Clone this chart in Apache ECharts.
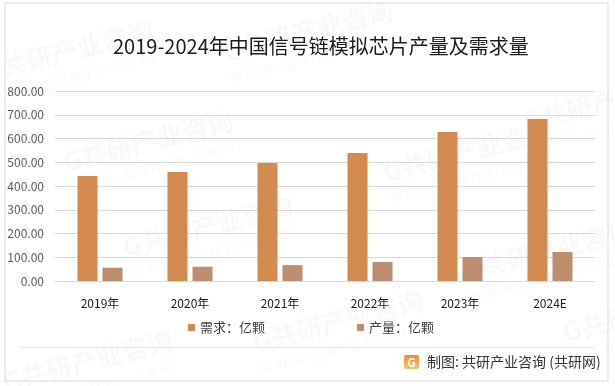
<!DOCTYPE html>
<html><head><meta charset="utf-8">
<script src="https://cdn.jsdelivr.net/npm/echarts@6/dist/echarts.min.js"></script>
<style>html,body{margin:0;padding:0;background:#fff}#c{width:615px;height:386px}</style>
</head><body><div id="c"></div>
<script>
const categories = ['2019年','2020年','2021年','2022年','2023年','2024E'];
const demand = [442, 459, 497, 539, 627, 682];
const production = [56, 60, 67, 80, 101, 122];
const seriesNames = ['需求：亿颗', '产量：亿颗'];
const yTicks = {min: 0, max: 800, interval: 100};

const chart = echarts.init(document.getElementById('c'), null, {renderer: 'canvas'});
const font = '"Noto Sans CJK SC", "Noto Sans", sans-serif';

const wm = [];
const wmPos = [[60,150],[220,40],[120,235],[380,160],[250,330],[520,110],[460,260],[0,370],[560,320],[-20,60]];
wmPos.forEach(p => {
  wm.push({type:'group', x:p[0], y:p[1], rotation: 0.25, silent:true, z:-1, children:[
    {type:'text', style:{text:'G共研产业咨询', font:'bold 26px ' + font, fill:'rgba(0,0,0,0.028)'}},
    {type:'text', y:30, style:{text:'w w w . g o n y n . c o m', font:'16px ' + font, fill:'rgba(0,0,0,0.028)'}}
  ]});
});

chart.setOption({
  animation: false,
  title: {
    text: '2019-2024年中国信号链模拟芯片产量及需求量',
    left: 108, top: 31,
    textStyle: {fontFamily: font, fontSize: 20, fontWeight: 'normal', color: '#1a1a1a'}
  },
  grid: {left: 55, right: 20, top: 91, bottom: 105},
  legend: {
    left: 183, top: 316, itemWidth: 7, itemHeight: 7, itemGap: 92,
    icon: 'rect',
    textStyle: {fontFamily: font, fontSize: 13, color: '#404040'},
    data: seriesNames
  },
  xAxis: {
    type: 'category', data: categories,
    axisLine: {lineStyle: {color: '#d9d9d9'}},
    axisTick: {show: false},
    axisLabel: {
      fontFamily: font, fontSize: 12, color: '#1a1a1a', margin: 16,
      formatter: v => v === '2024E' ? '{e|' + v + '}' : v,
      rich: {e: {fontFamily: font, fontSize: 12, color: '#1a1a1a', padding: [0,0,8,0]}}
    }
  },
  yAxis: {
    type: 'value', min: yTicks.min, max: yTicks.max, interval: yTicks.interval,
    axisLine: {show: false}, axisTick: {show: false},
    splitLine: {lineStyle: {color: '#d9d9d9'}},
    axisLabel: {fontFamily: font, fontSize: 12, color: '#595959', margin: 11,
      formatter: v => v.toFixed(2)}
  },
  series: [
    {name: seriesNames[0], type: 'bar', data: demand, barWidth: 20, barGap: '25%',
     itemStyle: {color: '#D28A4E'}},
    {name: seriesNames[1], type: 'bar', data: production, barWidth: 20,
     itemStyle: {color: '#BD8D6D'}}
  ],
  graphic: wm.concat([
    {type:'rect', shape:{x:5, y:3, width:603, height:378}, style:{fill:'none', stroke:'#d9d9d9', lineWidth:1}, silent:true},
    {type:'line', shape:{x1:21, y1:347.5, x2:594, y2:347.5}, style:{stroke:'#e3e3e3', lineWidth:1}, silent:true},
    {type:'rect', shape:{x:404, y:355, width:15, height:14, r:2},
     style:{fill:{type:'linear', x:0, y:0, x2:0, y2:1, colorStops:[{offset:0, color:'#F08A3C'},{offset:1, color:'#F7C46A'}]}}},
    {type:'text', x:411.5, y:362, style:{text:'G', font:'bold 12px ' + font, fill:'#fff', align:'center', verticalAlign:'middle'}},
    {type:'text', x:427, y:362, style:{text:'制图: 共研产业咨询 (共研网)', font:'14px ' + font, fill:'#333', verticalAlign:'middle'}}
  ])
});
</script></body></html>
